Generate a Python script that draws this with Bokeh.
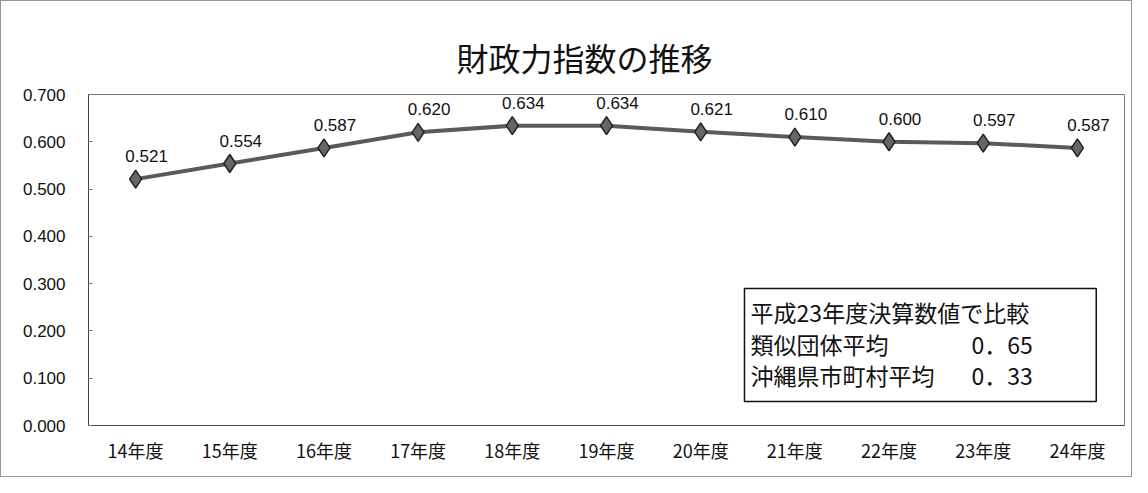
from bokeh.plotting import figure
from bokeh.models import (ColumnDataSource, BoxAnnotation, Label, Title,
                          FixedTicker, CustomJSTickFormatter)
from bokeh.core.properties import value
from bokeh.embed import file_html
from bokeh.resources import INLINE

years = ["14年度", "15年度", "16年度", "17年度", "18年度", "19年度",
         "20年度", "21年度", "22年度", "23年度", "24年度"]
index_values = [0.521, 0.554, 0.587, 0.620, 0.634, 0.634, 0.621, 0.610, 0.600, 0.597, 0.587]
y_ticks = [0.0, 0.1, 0.2, 0.3, 0.4, 0.5, 0.6, 0.7]
title_text = "財政力指数の推移"
note_lines = ["平成23年度決算数値で比較", "類似団体平均", "沖縄県市町村平均"]
note_values = ["", "0．65", "0．33"]

src = ColumnDataSource(dict(x=years, y=index_values,
                            lab=["%.3f" % v for v in index_values]))

p = figure(x_range=years, y_range=(0, 0.7), width=1132, height=477,
           output_backend="svg", toolbar_location=None,
           min_border_left=87, min_border_right=9, min_border_top=93, min_border_bottom=53,
           background_fill_color="white", border_fill_color="white")
p.styles = {"border": "1px solid #999"}

t = Title(text=title_text, align="left", offset=368, text_font_size="32px",
          text_font="Noto Sans CJK JP", text_font_style="normal",
          text_color="#111", standoff=30)
p.add_layout(t, "above")

p.outline_line_color = "#777"
p.outline_line_width = 1
p.xgrid.visible = False
p.ygrid.visible = False

p.yaxis.ticker = FixedTicker(ticks=y_ticks)
p.yaxis.formatter = CustomJSTickFormatter(code="return tick.toFixed(3);")
p.yaxis.major_label_text_font = "Liberation Sans"
p.yaxis.major_label_text_font_size = "17px"
p.yaxis.major_label_text_color = "#111"
p.yaxis.major_label_standoff = 23
p.yaxis.axis_line_color = "#444"
p.yaxis.major_tick_in = 4
p.yaxis.major_tick_out = 0
p.yaxis.major_tick_line_color = "#777"
p.yaxis.minor_tick_line_color = None

p.xaxis.major_label_text_font = "Noto Sans CJK JP"
p.xaxis.major_label_text_font_size = "18px"
p.xaxis.major_label_text_color = "#111"
p.xaxis.major_label_standoff = 5
p.xaxis.axis_line_color = "#444"
p.xaxis.major_tick_line_color = None
p.xaxis.minor_tick_line_color = None

p.line("x", "y", source=src, line_color="#5a5a5a", line_width=4)
p.scatter("x", "y", source=src, marker="diamond", size=18,
          fill_color="#666", line_color="#222", line_width=1.5)
p.text("x", "y", text="lab", source=src, x_offset=11, y_offset=-23,
       text_align="center", text_baseline="middle",
       text_font=value("Liberation Sans"), text_font_size="17px", text_color="#111")

# note box
box = BoxAnnotation(left=6.965, right=10.70, bottom=0.0508, top=0.2897,
                    fill_color="white", fill_alpha=1.0,
                    line_color="#111", line_alpha=1.0, line_width=1.5)
p.add_layout(box)
ys = [0.241, 0.1734, 0.1078]
for txt, val, yy in zip(note_lines, note_values, ys):
    p.add_layout(Label(x=7.03, y=yy, text=txt, text_baseline="middle",
                       text_font="Noto Sans CJK JP", text_font_size="23px",
                       text_color="#111"))
    if val:
        p.add_layout(Label(x=9.376, y=yy, text=val, text_baseline="middle",
                           text_font="Noto Sans CJK JP", text_font_size="23px",
                           text_color="#111"))

open("out.html", "w").write(file_html(p, INLINE))
